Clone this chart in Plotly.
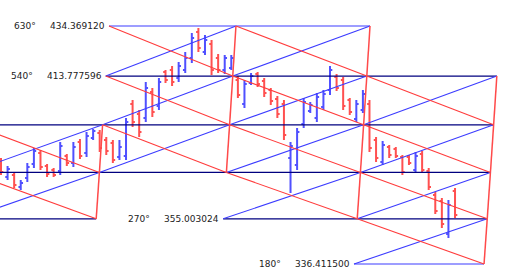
import plotly.graph_objects as go

# ---- data ----
bar_index = list(range(70))
bar_open = [378.80, 372.22, 373.04, 368.10, 371.81, 377.57, 382.10, 376.75, 375.10, 374.69,
            380.86, 377.98, 386.62, 382.10, 388.27, 390.33, 387.45, 386.21, 380.45, 380.86,
            402.27, 398.15, 396.50, 407.20, 401.44, 415.44, 416.26, 412.97, 416.26, 421.20,
            431.90, 423.67, 426.96, 421.20, 416.26, 417.08, 412.14, 402.27, 410.91, 414.61,
            411.73, 408.03, 404.32, 402.27, 380.04, 377.16, 394.03, 399.38, 396.50, 401.03,
            408.03, 413.38, 412.14, 403.91, 396.09, 399.80, 402.27, 387.45, 378.39, 384.57,
            383.74, 380.45, 380.45, 375.10, 381.69, 374.69, 364.81, 362.34, 348.76, 366.46]
bar_high = [380.04, 376.75, 374.28, 370.98, 377.98, 384.16, 383.33, 377.57, 375.92, 386.62,
            381.69, 386.62, 387.86, 390.74, 391.98, 391.56, 388.68, 387.45, 387.45, 396.50,
            403.91, 399.80, 411.32, 408.85, 412.97, 416.26, 417.91, 419.55, 423.67, 431.49,
            433.55, 430.66, 428.61, 422.84, 422.43, 422.43, 413.79, 412.14, 415.02, 415.44,
            412.97, 408.85, 405.56, 403.91, 386.62, 392.39, 404.73, 403.09, 406.79, 408.03,
            417.91, 414.61, 413.38, 404.73, 403.91, 408.03, 403.91, 388.68, 387.04, 385.39,
            384.57, 381.27, 381.27, 382.51, 382.92, 375.92, 366.05, 363.58, 362.75, 367.69]
bar_low = [373.04, 370.98, 367.69, 366.87, 370.16, 375.92, 375.10, 372.22, 372.22, 373.04,
           376.75, 376.33, 379.63, 380.45, 387.45, 382.51, 381.27, 377.98, 379.22, 379.22,
           392.80, 388.68, 394.86, 396.91, 399.80, 410.91, 409.67, 411.32, 415.02, 419.14,
           423.67, 422.43, 414.20, 415.02, 414.61, 416.26, 404.73, 400.62, 410.09, 409.26,
           405.15, 401.85, 396.50, 387.45, 365.63, 375.10, 392.39, 398.56, 394.86, 399.80,
           405.97, 407.62, 399.80, 397.74, 394.86, 398.56, 382.51, 378.39, 377.16, 380.04,
           380.04, 373.04, 377.16, 373.86, 373.86, 366.87, 356.99, 351.23, 347.11, 355.34]
bar_close = [374.28, 375.51, 368.93, 369.75, 376.33, 382.92, 376.33, 373.45, 373.04, 384.98,
             377.98, 384.57, 380.86, 389.09, 391.15, 384.16, 382.92, 379.22, 384.57, 394.86,
             394.86, 390.74, 408.85, 398.97, 411.32, 412.14, 411.32, 417.91, 421.20, 429.43,
             425.31, 428.61, 416.26, 416.26, 421.20, 421.20, 405.97, 410.50, 413.79, 410.50,
             406.79, 403.50, 398.15, 389.51, 384.98, 390.74, 403.09, 401.85, 405.15, 406.38,
             416.26, 408.85, 401.44, 398.97, 402.27, 406.38, 384.16, 380.04, 385.39, 381.27,
             380.86, 374.28, 377.98, 380.86, 375.10, 368.10, 358.23, 352.87, 360.69, 356.58]

levels_deg = [180, 270, 360, 450, 540, 630]
levels_price = [336.411500, 355.003024, 374.094548, 393.686072, 413.777596, 434.369120]

# column boundaries (bar-index units, at the 630 deg level) and their lean per 90 deg
edge_x_at_630 = [-3.34, 16.41, 35.71, 56.08, 75.84]
edge_lean_per_90 = 0.486
col_top_deg = [450, 630, 630, 540]
col_bottom_deg = [270, 360, 270, 180]

label_cols = [1, 1, 2, 3]
label_degs = [630, 540, 270, 180]

# ---- build ----
price = dict(zip(levels_deg, levels_price))


def ex(e, deg):
    return edge_x_at_630[e] - edge_lean_per_90 * (630 - deg) / 90


NAVY = "#00007f"
BLUE = "#3c3cff"
RED = "#ff3c3c"

segs = {"navy": ([], []), "blueh": ([], []), "blue": ([], []), "red": ([], []), "edge": ([], [])}


def add(key, x0, y0, x1, y1):
    xs, ys = segs[key]
    xs += [x0, x1, None]
    ys += [y0, y1, None]


for c in range(len(col_top_deg)):
    rows = [d for d in levels_deg if col_bottom_deg[c] <= d <= col_top_deg[c]]
    for lo, hi in zip(rows[:-1], rows[1:]):
        add("blue", ex(c, lo), price[lo], ex(c + 1, hi), price[hi])
        add("red", ex(c, hi), price[hi], ex(c + 1, lo), price[lo])
        add("edge", ex(c + 1, hi), price[hi], ex(c + 1, lo), price[lo])
    for d in rows:
        key = "blueh" if d in (630, 180) else "navy"
        add(key, ex(c, d), price[d], ex(c + 1, d), price[d])

fig = go.Figure()
styles = {
    "navy": dict(color=NAVY, width=1.2),
    "blueh": dict(color=BLUE, width=1.2),
    "blue": dict(color=BLUE, width=1.1),
    "red": dict(color=RED, width=1.1),
    "edge": dict(color="#ff4a4a", width=1.5),
}
for key in ["navy", "blueh", "blue", "red", "edge"]:
    xs, ys = segs[key]
    fig.add_trace(go.Scatter(x=xs, y=ys, mode="lines", line=styles[key],
                             hoverinfo="skip", showlegend=False))

fig.add_trace(go.Ohlc(
    x=bar_index, open=bar_open, high=bar_high, low=bar_low, close=bar_close,
    increasing=dict(line=dict(color="#5050ff", width=2)),
    decreasing=dict(line=dict(color="#ff5050", width=2)),
    tickwidth=0.35, showlegend=False, hoverinfo="skip",
))

font = dict(family="DejaVu Sans", size=9, color="#222222")
for c, d in zip(label_cols, label_degs):
    x = ex(c, d)
    fig.add_annotation(x=x, y=price[d], xref="x", yref="y", text=f"{price[d]:.6f}",
                       showarrow=False, xanchor="right", yanchor="middle",
                       xshift=-2, font=font)
    fig.add_annotation(x=x, y=price[d], xref="x", yref="y", text=f"{d}°",
                       showarrow=False, xanchor="right", yanchor="middle",
                       xshift=-71, font=font)

px_per_bar = 6.58
x_min = -1 / px_per_bar
x_max = x_min + 523 / px_per_bar
fig.update_layout(
    width=523, height=271,
    margin=dict(l=0, r=0, t=0, b=0),
    paper_bgcolor="white", plot_bgcolor="white",
    showlegend=False,
    xaxis=dict(range=[x_min, x_max], visible=False, rangeslider=dict(visible=False),
               fixedrange=True),
    yaxis=dict(range=[333.53, 445.07], visible=False, fixedrange=True),
)

fig.write_html("out.html")
